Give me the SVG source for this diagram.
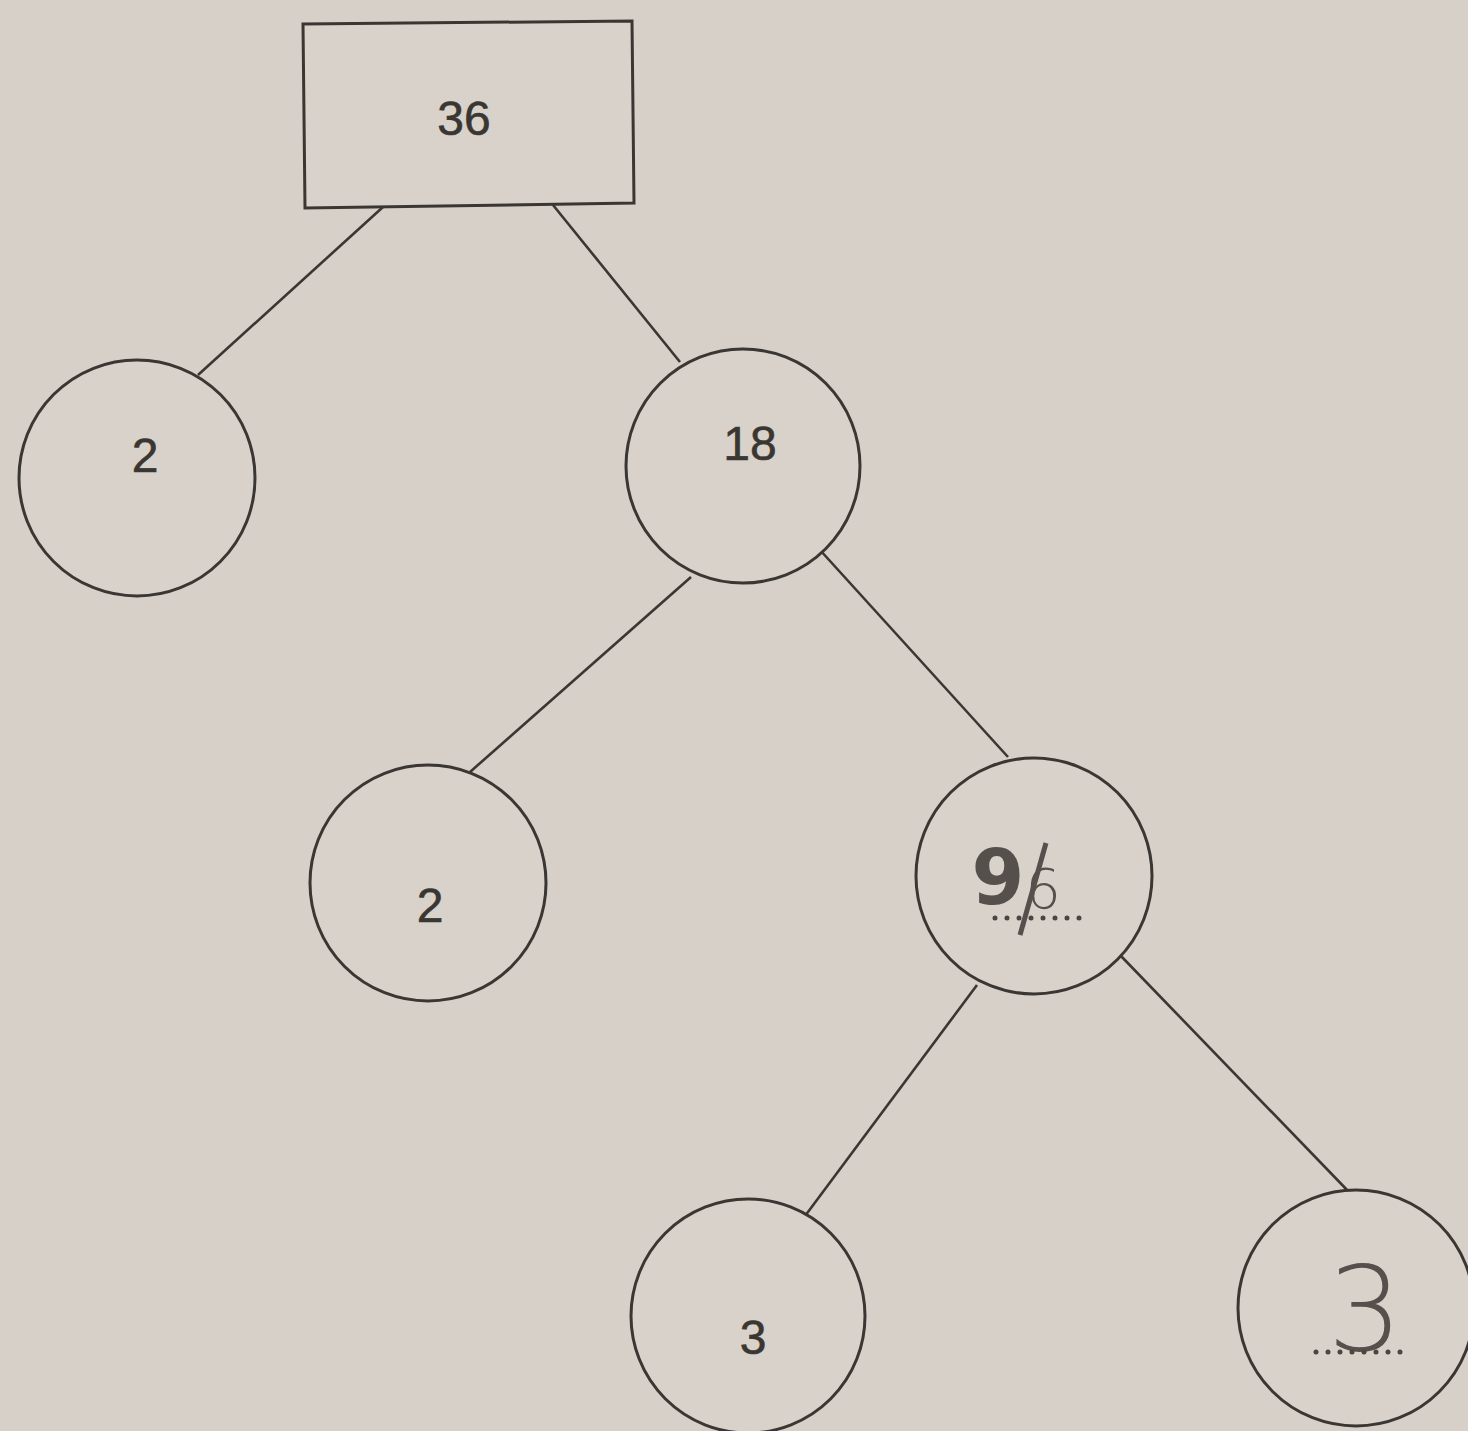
<svg xmlns="http://www.w3.org/2000/svg" width="1468" height="1431" viewBox="0 0 1468 1431">
<style>
.bg{fill:#d7d0c9}
.n{fill:#d9d2cb;stroke:#3a3632;stroke-width:3}
.e{stroke:#3a3632;stroke-width:2.6;fill:none}
.t{font-family:"Liberation Sans",Arial,sans-serif;font-size:48px;fill:#3a3632;stroke:#3a3632;stroke-width:0.6;text-anchor:middle}
.h{font-family:"DejaVu Sans",sans-serif;fill:#55504c;text-anchor:middle}
.dots{stroke:#4a4541;stroke-width:5;stroke-linecap:round;stroke-dasharray:0 12;fill:none}
</style>
<rect class="bg" x="0" y="0" width="1468" height="1431"/>
<g id="connectors">
<line class="e" x1="383" y1="207" x2="198" y2="375"/>
<line class="e" x1="553" y1="205" x2="680" y2="362"/>
<line class="e" x1="691" y1="577" x2="470" y2="772"/>
<line class="e" x1="820" y1="550" x2="1008" y2="757"/>
<line class="e" x1="977" y1="985" x2="805" y2="1216"/>
<line class="e" x1="1120" y1="955" x2="1350" y2="1193"/>
</g>
<g id="n36">
<polygon class="n" points="303,24 632,21 634,203 305,208"/>
<text class="t" x="464" y="135">36</text>
</g>
<g id="n2a">
<circle class="n" cx="137" cy="478" r="118"/>
<text class="t" x="145" y="472">2</text>
</g>
<g id="n18">
<circle class="n" cx="743" cy="466" r="117"/>
<text class="t" x="750" y="460">18</text>
</g>
<g id="n2b">
<circle class="n" cx="428" cy="883" r="118"/>
<text class="t" x="430" y="922">2</text>
</g>
<g id="n9">
<circle class="n" cx="1034" cy="876" r="118"/>
<text class="h" x="998" y="904" font-size="76" style="font-weight:600">9</text>
<text class="h" x="1043" y="908" font-size="56" style="font-weight:300">6</text>
<path d="M1046,843 L1020,935" stroke="#55504c" stroke-width="5" fill="none"/>
<path class="dots" d="M995,918 H1080"/>
</g>
<g id="n3a">
<circle class="n" cx="748" cy="1316" r="117"/>
<text class="t" x="753" y="1354">3</text>
</g>
<g id="n3b">
<circle class="n" cx="1356" cy="1308" r="118"/>
<text class="h" x="1365" y="1350" font-size="118" style="font-weight:200">3</text>
<path class="dots" d="M1316,1352 H1404"/>
</g>
</svg>
